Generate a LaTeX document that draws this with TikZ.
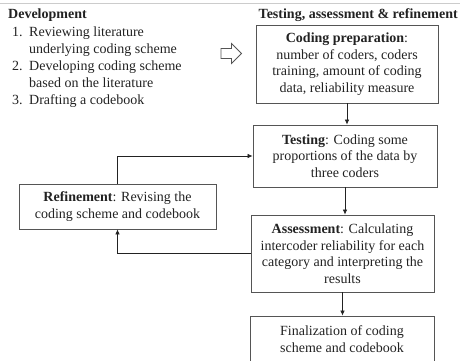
\documentclass[tikz,border=0pt]{standalone}
\usepackage{fontspec}
\setmainfont{Liberation Serif}
\usetikzlibrary{arrows.meta}
\definecolor{boxgray}{HTML}{555555}
\definecolor{txt}{HTML}{222222}
\tikzset{
  every node/.style={font=\fontsize{14}{16.5}\selectfont, text=txt},
  box/.style={draw=boxgray, line width=0.8pt, align=center, inner sep=0pt},
  conn/.style={draw=txt, line width=0.7pt, -{Latex[length=5pt,width=4.5pt]}},
  lbl/.style={anchor=base west, inner sep=0pt},
}
\begin{document}
\begin{tikzpicture}[x=1pt,y=-1pt]
\useasboundingbox (0,0) rectangle (460,360);
\draw[draw=black!20, line width=0.8pt] (0,3) -- (460,3);

% left heading and list
\node[lbl] (devh) at (8,18) {\textbf{Development}};
\node[lbl] (n1) at (12,36) {1.};
\node[lbl] (t1) at (29,36) {Reviewing literature};
\node[lbl] (t1b) at (29,53) {underlying coding scheme};
\node[lbl] (n2) at (12,70) {2.};
\node[lbl] (t2) at (29,70) {Developing coding scheme};
\node[lbl] (t2b) at (29,87) {based on the literature};
\node[lbl] (n3) at (12,104) {3.};
\node[lbl] (t3) at (29,104) {Drafting a codebook};

% right heading
\node[anchor=base east, inner sep=0pt] (tarh) at (458,18) {\textbf{Testing, assessment \& refinement}};

% hollow arrow
\draw[draw=boxgray, line width=0.8pt, fill=white] (221,48.5) -- (231.5,48.5) -- (231.5,43.5) -- (241.5,53.5) -- (231.5,63.5) -- (231.5,58.5) -- (221,58.5) -- cycle;

% boxes
\node[box, minimum width=182pt, minimum height=78pt] (prep) at (347,64)
  {\textbf{Coding preparation}:\\number of coders, coders\\training, amount of coding\\data, reliability measure};
\node[box, minimum width=184pt, minimum height=62pt] (test) at (345,156)
  {\textbf{Testing}: Coding some\\proportions of the data by\\three coders};
\node[box, minimum width=183pt, minimum height=77pt] (assess) at (342.5,253.5)
  {\textbf{Assessment}: Calculating\\intercoder reliability for each\\category and interpreting the\\results};
\node[box, minimum width=184pt, minimum height=46pt] (final) at (342,339)
  {Finalization of coding\\scheme and codebook};
\node[box, minimum width=197pt, minimum height=45pt] (refine) at (117.5,206.5)
  {\textbf{Refinement}: Revising the\\coding scheme and codebook};

% connectors
\draw[conn] (prep.south) -- (prep.south |- test.north);
\draw[conn] (test.south) -- (test.south |- assess.north);
\draw[conn] (assess.south) -- (assess.south |- final.north);
\draw[conn] (refine.north) |- (test.west);
\draw[conn] (assess.west) -| (refine.south);
\end{tikzpicture}
\end{document}
